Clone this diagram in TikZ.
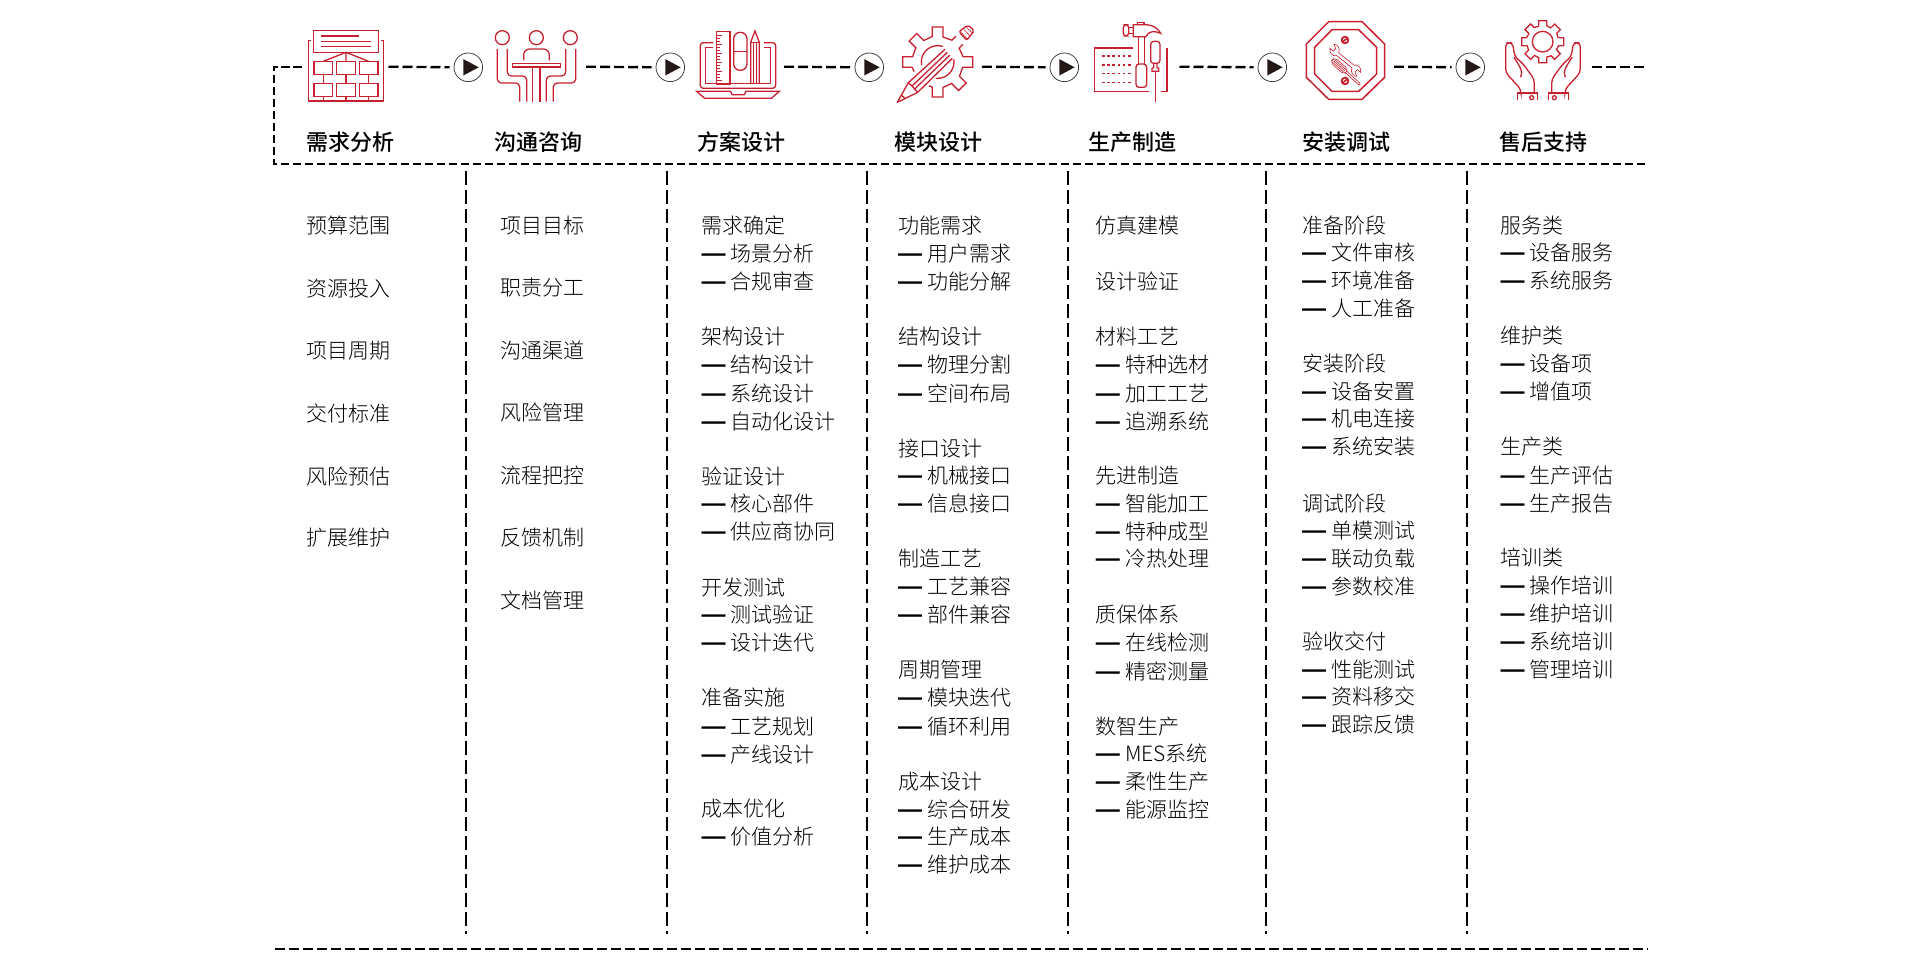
\documentclass[tikz,border=0pt]{standalone}
\usepackage{fontspec}
\newfontfamily\cjk{Noto Sans CJK SC Light}
\newfontfamily\cjkh{Noto Sans CJK SC Medium}
\newfontfamily\dashfont{Liberation Sans}
\newcommand{\D}{{\dashfont\fontsize{24}{24}\selectfont\bfseries —}\hspace{5.2pt}}
\definecolor{iconred}{HTML}{C9202F}
\definecolor{playblk}{HTML}{231815}
\tikzset{
  body/.style={anchor=west,inner sep=0pt,xshift=0.3pt,yshift=-0.1pt,font=\fontsize{21}{21}\selectfont\cjk,text height=18.4pt,text depth=2.6pt,text=black},
  head/.style={anchor=west,inner sep=0pt,font=\fontsize{22}{22}\selectfont\cjkh,text height=19.4pt,text depth=2.6pt,text=black},
  topdash/.style={line width=2.3pt,dash pattern=on 8.5pt off 3.5pt},
  rowdash/.style={line width=2.4pt,dash pattern=on 10pt off 4pt},
  vdash/.style={line width=2pt,dash pattern=on 14pt off 5pt},
  playnode/.style={circle,draw=black!75,line width=0.8pt,minimum size=28.6pt,inner sep=0pt},
  iconbox/.style={minimum height=10pt,inner sep=0pt},
  ic/.style={draw=iconred,line width=1.3pt,line join=miter},
  ict/.style={draw=iconred,line width=0.6pt},
  zoomed/.style={x=0.33333pt,y=-0.33333pt,shift={(#1 pt,0pt)}}
}
\newcommand{\playmark}[1]{\fill[playblk] ([shift={(-5pt,8.2pt)}]#1.center) -- ([shift={(10.4pt,0pt)}]#1.center) -- ([shift={(-5pt,-8.2pt)}]#1.center) -- cycle;}
\newcommand{\column}[3]{\foreach \yy/\tt [count=\ii] in {#3} {\node[body] (c#1-\ii) at (#2,\yy) {\tt};}}
\begin{document}
\begin{tikzpicture}[x=1.2245pt,y=-1.2245pt]
\useasboundingbox (0,0) rectangle (1568,788.89);
% invisible icon extents
\node[iconbox,minimum width=86.3pt] (icon1) at (345.15pt,-66.7pt) {};
\node[iconbox,minimum width=91pt] (icon2) at (540.5pt,-66.7pt) {};
\node[iconbox,minimum width=87pt] (icon3) at (740.5pt,-66.7pt) {};
\node[iconbox,minimum width=84.7pt] (icon4) at (939.35pt,-66.7pt) {};
\node[iconbox,minimum width=89.3pt] (icon5) at (1134.65pt,-66.7pt) {};
\node[iconbox,minimum width=90pt] (icon6) at (1349pt,-66.7pt) {};
\node[iconbox,minimum width=91.7pt] (icon7) at (1545.85pt,-66.7pt) {};
\node[playnode] (play1) at (468.3pt,-67.3pt) {};
\node[playnode] (play2) at (670.3pt,-67.3pt) {};
\node[playnode] (play3) at (869.3pt,-67.3pt) {};
\node[playnode] (play4) at (1064.3pt,-67.3pt) {};
\node[playnode] (play5) at (1272.3pt,-67.3pt) {};
\node[playnode] (play6) at (1470.3pt,-67.3pt) {};
\foreach \p in {play1,play2,play3,play4,play5,play6} {\playmark{\p}}
\coordinate (cTL) at (274pt,-66.7pt);
\coordinate (cBL) at (274pt,-164pt);
\coordinate (cBR) at (1645pt,-164pt);
\coordinate (endR) at (1645pt,-66.7pt);
\coordinate (botL) at (275pt,-949pt);
\coordinate (botR) at (1648pt,-949pt);
\draw[topdash] (icon1.west) -- (cTL) -- (cBL) -- (cBR);
\draw[rowdash] (botL) -- (botR);
\foreach \i in {1,...,6} {\draw[rowdash,shorten >=4pt] (icon\i.east) -- (play\i.west);}
\draw[rowdash] (icon7.east) -- (endR);
\foreach \x [count=\i] in {380.5,545,708,872,1034,1198} {
  \coordinate (vt\i) at (\x,140);
  \coordinate (vb\i) at (\x,763);
  \draw[vdash] (vt\i) -- (vb\i);
}
% headings
\node[head] (h1) at (250.5,116) {需求分析};
\node[head] (h2) at (403.5,116) {沟通咨询};
\node[head] (h3) at (569.5,116) {方案设计};
\node[head] (h4) at (730.5,116) {模块设计};
\node[head] (h5) at (888.5,116) {生产制造};
\node[head] (h6) at (1063.5,116) {安装调试};
\node[head] (h7) at (1224.5,116) {售后支持};
% columns
\column{1}{249.5}{184/预算范围,236/资源投入,286/项目周期,338/交付标准,389/风险预估,439/扩展维护}
\column{2}{408}{184/项目目标,235/职责分工,286/沟通渠道,337/风险管理,388/流程把控,439/反馈机制,490/文档管理}
\column{3}{572.5}{184/需求确定,207/\D 场景分析,230/\D 合规审查,275/架构设计,298/\D 结构设计,321/\D 系统设计,344/\D 自动化设计,389/验证设计,411/\D 核心部件,434/\D 供应商协同,480/开发测试,502/\D 测试验证,525/\D 设计迭代,570/准备实施,593/\D 工艺规划,616/\D 产线设计,660/成本优化,683/\D 价值分析}
\column{4}{733}{184/功能需求,207/\D 用户需求,230/\D 功能分解,275/结构设计,298/\D 物理分割,321/\D 空间布局,366/接口设计,388/\D 机械接口,411/\D 信息接口,456/制造工艺,479/\D 工艺兼容,502/\D 部件兼容,547/周期管理,570/\D 模块迭代,593/\D 循环利用,638/成本设计,661/\D 综合研发,683/\D 生产成本,706/\D 维护成本}
\column{5}{894.5}{184/仿真建模,230/设计验证,275/材料工艺,298/\D 特种选材,321/\D 加工工艺,344/\D 追溯系统,388/先进制造,411/\D 智能加工,434/\D 特种成型,456/\D 冷热处理,502/质保体系,525/\D 在线检测,548/\D 精密测量,593/数智生产,615/\D MES系统,638/\D 柔性生产,661/\D 能源监控}
\column{6}{1063}{184/准备阶段,206/\D 文件审核,229/\D 环境准备,252/\D 人工准备,297/安装阶段,320/\D 设备安置,342/\D 机电连接,365/\D 系统安装,411/调试阶段,433/\D 单模测试,456/\D 联动负载,479/\D 参数校准,524/验收交付,547/\D 性能测试,569/\D 资料移交,592/\D 跟踪反馈}
\column{7}{1225}{184/服务类,206/\D 设备服务,229/\D 系统服务,274/维护类,297/\D 设备项,320/\D 增值项,365/生产类,388/\D 生产评估,411/\D 生产报告,455/培训类,478/\D 操作培训,501/\D 维护培训,524/\D 系统培训,547/\D 管理培训}
% ---- icon 1
\begin{scope}[zoomed=260]
\draw[ic] (161,92) rectangle (355,157);
\draw[ic] (184,108) -- (297,108) (184,124) -- (332,124) (184,139) -- (332,139);
\draw[ic] (152,122) -- (145,122) -- (145,303) -- (371,303) -- (371,122) -- (364,122);
\draw[ic] (190,184) -- (258,157) -- (326,184) (258,157) -- (258,184);
\foreach \x in {162,230,298} {\draw[ic] (\x,184) rectangle ++(56,39); \draw[ic] (\x,251) rectangle ++(56,39);
  \draw[ic] (\x+28,223) -- (\x+28,251) (\x+28,290) -- (\x+28,303);}
\end{scope}
% ---- icon 2
\begin{scope}[zoomed=260]
\foreach \x in {727,829,931} {\draw[ic] (\x,113) circle (21);}
\draw[ic,rounded corners=4pt] (712,147) -- (712,249) -- (779,249) -- (779,305);
\draw[ic,rounded corners=4pt] (742,147) -- (742,228) -- (800,228) -- (800,305);
\draw[ic,rounded corners=4pt] (947,147) -- (947,249) -- (880,249) -- (880,305);
\draw[ic,rounded corners=4pt] (917,147) -- (917,228) -- (859,228) -- (859,305);
\draw[ic,rounded corners=6pt] (791,181) -- (791,147) -- (868,147) -- (868,181);
\draw[ic] (757,190) rectangle (902,201);
\draw[ic] (818,201) -- (818,305) (840,201) -- (840,305);
\end{scope}
% ---- icon 3
\begin{scope}[x=0.33333pt,y=-0.33333pt,shift={(690pt,-20pt)}]
\draw[ic] (80,35) rectangle (120,192);
\foreach \y [count=\n] in {45,54,63,72,81,90,99,108,117,126,135,144,153,162,171,180} {
  \pgfmathsetmacro{\len}{mod(\n,3)==1 ? 15 : 9}
  \draw[ict,line width=1pt] (80,\y) -- ++(\len,0);}
\draw[ic,rounded corners=6.5pt] (131,37) rectangle (171,151);
\draw[ic] (131,94) -- (171,94);
\draw[ic] (182,192) -- (182,67) -- (195,33) -- (208,67) -- (208,192);
\draw[ic] (182,67) -- (208,67);
\draw[ict] (190,67) -- (190,192) (199,67) -- (199,192);
\draw[ic,rounded corners=3pt] (70,68) -- (31,68) -- (31,205) -- (257,205) -- (257,68) -- (222,68);
\draw[ic] (70,83) -- (46,83) -- (46,190) -- (242,190) -- (242,83) -- (222,83);
\draw[ic] (20,214) -- (122,214) -- (126,224) -- (163,224) -- (168,214) -- (268,214) -- (244,235) -- (44,235) -- cycle;
\end{scope}
% ---- icon 4
\begin{scope}[x=0.33333pt,y=-0.33333pt,shift={(890pt,-15pt)}]
\foreach \a in {0,45,...,315} {
  \draw[ic,rotate around={\a:(143,141)}] (127,66) -- (127,36) -- (159,36) -- (159,66) -- (185.5,75.5);
}
\draw[ic] (143,141) circle (49);
\fill[white] (20,205) -- (50,190) -- (170,85) -- (205,118) -- (90,240) -- (25,270) -- cycle;
\fill[white] (195,60) -- (220,35) -- (255,55) -- (225,95) -- cycle;
\draw[ic] (55,203) -- (165,103) (83,232) -- (187,130);
\draw[ic] (66,213) -- (172,112) (74,222) -- (180,120);
\draw[ic,line join=round] (55,203) -- (22,262) -- (83,232) (55,203) -- (66,213) -- (74,222) -- (83,232);
\draw[ic] (33,240) -- (45,250);
\draw[ic,rounded corners=2pt] (207,50) -- (234,30) -- (253,47) -- (230,76) -- cycle;
\draw[ict] (214,53) -- (232,72) (222,44) -- (240,63) (230,37) -- (247,55);
\end{scope}
% ---- icon 5
\begin{scope}[zoomed=780]
\draw[ic] (1058,144) -- (944,144) -- (944,274) -- (1108,274);
\draw[ic] (1143,274) -- (1161,274) -- (1161,144);
\foreach \y in {168,195,221,247} {\draw[ic,dash pattern=on 2.6pt off 2.6pt] (966,\y) -- (1058,\y);}
\draw[ic,rounded corners=3pt] (1030,74) rectangle (1046,108);
\draw[ic] (1046,82) -- (1060,82) (1046,100) -- (1060,100);
\draw[ic] (1060,108) -- (1060,74) -- (1100,74) .. controls (1120,76) and (1135,86) .. (1142,100) .. controls (1125,92) and (1105,92) .. (1098,110) -- (1060,110) -- cycle;
\draw[ic] (1072,74) -- (1072,68) -- (1092,68) -- (1092,74);
\draw[ic] (1075,110) -- (1075,192) (1093,110) -- (1093,192);
\draw[ic,rounded corners=3pt] (1068,192) rectangle (1100,262);
\draw[ic,rounded corners=3pt] (1112,124) rectangle (1140,190);
\draw[ic] (1121,190) -- (1121,203) -- (1116,205) -- (1116,214) -- (1136,214) -- (1136,205) -- (1131,203) -- (1131,190);
\draw[ic] (1126,214) -- (1126,305);
\end{scope}
% ---- icon 6
\begin{scope}[zoomed=1230]
\draw[ic,line width=1.5pt] (296,65) -- (396,65) -- (464,132) -- (464,232) -- (396,298) -- (296,298) -- (229,232) -- (229,132) -- cycle;
\draw[ic,line width=1.5pt] (306,89) -- (386,89) -- (440,142) -- (440,222) -- (386,274) -- (306,274) -- (254,222) -- (254,142) -- cycle;
\foreach \y in {120,243} {\draw[ic,line width=1.8pt] (345,\y) circle (10); \draw[ic,line width=1.6pt] (339,\y+5) -- (351,\y-5);}
\foreach \r in {0,180} {
\draw[ict,rotate around={\r:(346,181)}] (349,177) -- (326,158.5) .. controls (332,145) and (322,132) .. (312,133) -- (317,146) -- (310,153) -- (300,145) .. controls (297,158) and (307,170) .. (319.5,166.3) -- (343,185);
}
\fill[white,rotate around={-42:(328,198)}] (300,188) rectangle (356,208);
\draw[ict,rounded corners=4pt,rotate around={-42:(328,198)}] (300,188) rectangle (356,208);
\foreach \d in {-5,0,5} {\draw[ict,rotate around={-42:(328,198)}] (306,198+\d) -- (350,198+\d);}
\draw[ict,fill=white,rotate around={-42:(328,198)}] (356,195) -- (408,195) -- (412,198) -- (408,201) -- (356,201);
\end{scope}
% ---- icon 7
\begin{scope}[zoomed=1230]
\foreach \a in {0,45,...,315} {
  \draw[ic,rotate around={\a:(938,125)}] (926,77) -- (926,62) -- (950,62) -- (950,77) -- (963.5,84.5);
}
\draw[ic] (938,125) circle (31);
\foreach \m in {0,1} {
\begin{scope}[xscale={\m==0 ? 1 : -1},xshift={\m==0 ? 0 : -1878*0.33333 pt}]
\draw[ic,rounded corners=4pt] (873,279) -- (873,268) -- (827,218) -- (827,128) -- (848,128) -- (854,170) -- (878,190) -- (913,238) -- (913,279);
\draw[ic] (852,172) .. controls (866,195) and (882,215) .. (872,232);
\draw[ic] (862,300) -- (862,279) -- (922,279) -- (922,300);
\draw[ic] (905,293) circle (6);
\end{scope}}
\end{scope}
\end{tikzpicture}
\end{document}
